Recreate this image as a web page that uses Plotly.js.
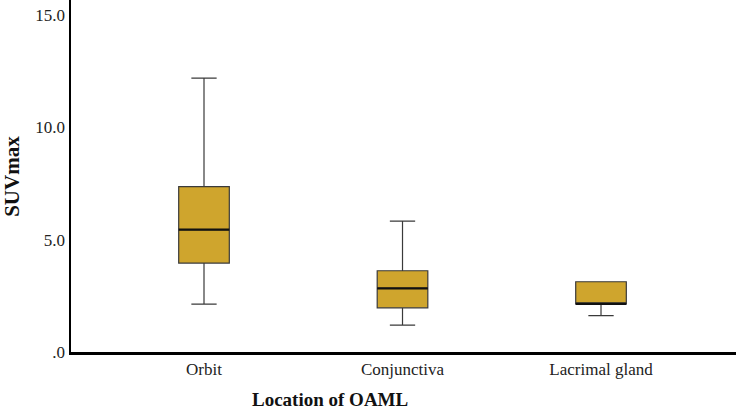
<!DOCTYPE html>
<html>
<head>
<meta charset="utf-8">
<script src="https://cdn.plot.ly/plotly-3.0.1.min.js"></script>
<style>html,body{margin:0;padding:0;background:#fff;}#chart{width:736px;height:414px;}</style>
</head>
<body>
<div id="chart"></div>
<script>
var categories = ["Orbit", "Conjunctiva", "Lacrimal gland"];
var lowerFence = [2.13, 1.20, 1.62];
var q1 = [3.96, 1.97, 2.14];
var median = [5.45, 2.83, 2.14];
var q3 = [7.37, 3.62, 3.13];
var upperFence = [12.2, 5.83, 3.13];
var yTickVals = [0, 5, 10, 15];
var yTickText = [".0", "5.0", "10.0", "15.0"];

var font = "Liberation Serif";

var boxTrace = {
  type: "box",
  x: categories,
  q1: q1,
  median: median,
  q3: q3,
  lowerfence: lowerFence,
  upperfence: upperFence,
  width: 0.255,
  whiskerwidth: 0.5,
  fillcolor: "#CFA52D",
  line: {color: "#3a3a3a", width: 1.2},
  hoverinfo: "none",
  showlegend: false
};

// thicker median line drawn as a flat box at the median values
var medianTrace = {
  type: "box",
  x: categories,
  q1: median,
  median: median,
  q3: median,
  lowerfence: median,
  upperfence: median,
  width: 0.255,
  whiskerwidth: 0,
  fillcolor: "rgba(0,0,0,0)",
  line: {color: "#111111", width: 2.2},
  hoverinfo: "none",
  showlegend: false
};

var layout = {
  width: 736, height: 414,
  margin: {l: 71, r: 0, t: 0, b: 62},
  paper_bgcolor: "#fff", plot_bgcolor: "#fff",
  boxmode: "overlay",
  font: {family: font, color: "#222"},
  xaxis: {
    type: "category",
    range: [-0.67, 2.68],
    showline: true, linecolor: "#000", linewidth: 2.5,
    showgrid: false, zeroline: false, ticks: "",
    tickfont: {size: 17, family: font, color: "#222"}
  },
  yaxis: {
    range: [0, 15.68],
    showline: true, linecolor: "#000", linewidth: 2.5,
    showgrid: false, zeroline: false, ticks: "",
    tickvals: yTickVals, ticktext: yTickText,
    tickfont: {size: 17, family: font, color: "#222"}
  },
  annotations: [
    {text: "<b>Location of OAML</b>", xref: "paper", yref: "paper", x: 0.3895, y: -0.135,
     xanchor: "center", yanchor: "middle", showarrow: false, font: {size: 19, family: font, color: "#111"}},
    {text: "<b>SUVmax</b>", xref: "paper", yref: "paper", x: -0.089, y: 0.5, textangle: -90,
     xanchor: "center", yanchor: "middle", showarrow: false, font: {size: 21, family: font, color: "#111"}}
  ]
};

Plotly.newPlot("chart", [boxTrace, medianTrace], layout, {displayModeBar: false, staticPlot: true});
</script>
</body>
</html>
